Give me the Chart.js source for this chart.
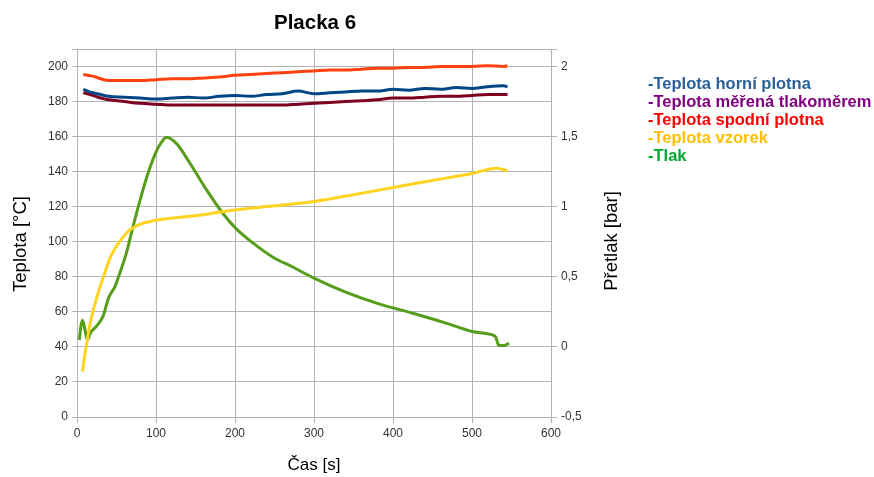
<!DOCTYPE html>
<html>
<head>
<meta charset="utf-8">
<title>Placka 6</title>
<script src="https://cdn.jsdelivr.net/npm/chart.js@4/dist/chart.umd.min.js"></script>
<style>
  html, body { margin: 0; padding: 0; background: #fff; }
  #wrap { position: relative; width: 874px; height: 477px; }
  #legend {
    position: absolute; left: 648px; top: 74px;
    font: bold 16.5px "Liberation Sans", Arial, sans-serif; line-height: 18px;
  }
  #legend div { white-space: nowrap; }
</style>
</head>
<body>
<div id="wrap">
  <canvas id="chart" width="874" height="477"></canvas>
  <div id="legend"></div>
</div>
<script>
// ── Data ──
// teploty desek (°C), společná časová osa
const plateTime = [8, 20, 30, 40, 60, 80, 100, 120, 140, 160, 180, 200, 220, 240, 260,
                   280, 300, 320, 340, 360, 380, 400, 420, 440, 460, 480, 500, 520, 540, 545];
const horniPlotna = [187, 185, 184, 183, 182.5, 182, 181.5, 182, 182.5, 182, 183, 183.5, 183, 184, 184.5,
                     186, 184.5, 185, 185.5, 186, 186, 187, 186.5, 187.5, 187, 188, 187.5, 188.5, 189, 188.5];
const merenaTlakomerem = [185, 183.5, 182, 181, 180, 179, 178.5, 178, 178, 178, 178, 178, 178, 178, 178,
                          178.5, 179, 179.5, 180, 180.5, 181, 182, 182, 182.5, 183, 183, 183.5, 184, 184, 184];
const spodniPlotna = [195.5, 194.5, 193, 192, 192, 192, 192.5, 193, 193, 193.5, 194, 195, 195.5, 196, 196.5,
                      197, 197.5, 198, 198, 198.5, 199, 199, 199.5, 199.5, 200, 200, 200, 200.5, 200, 200.5];

// teplota vzorku (°C)
const vzorekTime = [7, 10, 13, 16, 20, 25, 29, 35, 42, 50, 58, 65, 71, 80, 90, 100, 125, 155, 175,
                    197, 250, 300, 325, 350, 400, 450, 500, 531, 545];
const vzorek = [26, 36, 44, 52, 60, 68, 74, 82, 91, 97.5, 102.5, 106, 108, 110, 111.3, 112.3, 113.7, 115.1, 116.5,
                118, 120.5, 123, 124.8, 126.8, 131, 135, 139, 142, 140.5];

// přetlak (bar), pravá osa
const tlakTime = [3, 5, 7, 10, 13, 17, 25, 33, 40, 48, 55, 62, 71, 80, 90, 100, 107, 113, 126, 143,
                  164, 185, 202, 223, 248, 273, 300, 340, 383, 425, 467, 500, 526, 530, 534, 540, 547];
const tlak = [0.05, 0.15, 0.19, 0.125, 0.05, 0.1, 0.15, 0.22, 0.35, 0.43, 0.54, 0.66, 0.86, 1.05, 1.24, 1.39, 1.46, 1.496, 1.45, 1.31,
              1.12, 0.95, 0.84, 0.74, 0.64, 0.57, 0.49, 0.39, 0.305, 0.24, 0.17, 0.11, 0.085, 0.07, 0.01, 0.01, 0.025];

const xTicks = [0, 100, 200, 300, 400, 500, 600];

const pts = (xs, ys) => xs.map((x, i) => ({ x, y: ys[i] }));

const series = [
  { label: 'Teplota horní plotna',       data: pts(plateTime, horniPlotna),      color: '#004586', text: '#2a6099', axis: 'y' },
  { label: 'Teplota měřená tlakoměrem',  data: pts(plateTime, merenaTlakomerem), color: '#7e0021', text: '#800080', axis: 'y' },
  { label: 'Teplota spodní plotna',      data: pts(plateTime, spodniPlotna),     color: '#ff420e', text: '#ff0000', axis: 'y' },
  { label: 'Teplota vzorek',             data: pts(vzorekTime, vzorek),          color: '#ffd320', text: '#ffbf00', axis: 'y' },
  { label: 'Tlak',                       data: pts(tlakTime, tlak),              color: '#579d1c', text: '#00a933', axis: 'y1' },
];

// legenda vpravo – jen barevný text
const legendEl = document.getElementById('legend');
series.forEach(s => {
  const d = document.createElement('div');
  d.textContent = '-' + s.label;
  d.style.color = s.text;
  legendEl.appendChild(d);
});

const GRID = '#b3b3b3';
const TICK_FONT = { family: 'Liberation Sans', size: 12 };
const TITLE_FONT = { family: 'Liberation Sans', size: 17 };

// svislé popisky os, oba otočené zdola nahoru
const axisTitles = {
  id: 'axisTitles',
  afterDraw(chart) {
    const { ctx } = chart;
    const draw = (text, x, y) => {
      ctx.save();
      ctx.translate(x, y);
      ctx.rotate(-Math.PI / 2);
      ctx.font = '18.5px "Liberation Sans"';
      ctx.fillStyle = '#000';
      ctx.textAlign = 'center';
      ctx.textBaseline = 'middle';
      ctx.fillText(text, 0, 0);
      ctx.restore();
    };
    draw('Teplota [°C]', 21, 244);
    draw('Přetlak [bar]', 612, 241);
  }
};

new Chart(document.getElementById('chart'), {
  type: 'line',
  data: {
    datasets: series.map(s => ({
      label: s.label,
      data: s.data,
      borderColor: s.color,
      backgroundColor: s.color,
      yAxisID: s.axis,
    })),
  },
  options: {
    responsive: false,
    animation: false,
    layout: { padding: { left: 0, right: 244, top: 0, bottom: 0 } },
    elements: {
      point: { radius: 0 },
      line: { borderWidth: 3, cubicInterpolationMode: 'monotone' },
    },
    plugins: {
      legend: { display: false },
      tooltip: { enabled: false },
      title: {
        display: true, text: 'Placka 6', color: '#000',
        font: { family: 'Liberation Sans', size: 20.5, weight: 'bold' },
        padding: { top: 11, bottom: 13.4 },
      },
    },
    scales: {
      x: {
        type: 'linear', min: 0, max: 600,
        afterBuildTicks: (s) => { s.ticks = xTicks.map(v => ({ value: v })); },
        afterFit: (s) => { s.height = 60; },
        grid: { color: GRID, tickLength: 6 },
        border: { color: GRID },
        ticks: { font: TICK_FONT, color: '#333', padding: 3, maxRotation: 0 },
        title: { display: true, text: 'Čas [s]', font: TITLE_FONT, color: '#000', padding: { top: 1, bottom: 1 } },
      },
      y: {
        position: 'left', min: 0, max: 210,
        afterFit: (s) => { s.width = 77; },
        grid: { color: GRID, tickLength: 5 },
        border: { color: GRID },
        ticks: {
          stepSize: 20, font: TICK_FONT, color: '#333', padding: 4,
          callback: (v) => (v % 20 === 0 ? v : ''),
        },
      },
      y1: {
        position: 'right', min: -0.5, max: 2.125,
        afterFit: (s) => { s.width = 79; },
        grid: { drawOnChartArea: false, color: GRID, tickLength: 6 },
        border: { color: GRID },
        ticks: {
          stepSize: 0.5, font: TICK_FONT, color: '#333', padding: 4,
          callback: (v) => (Math.abs(v * 2 - Math.round(v * 2)) < 1e-9 ? String(v).replace('.', ',') : ''),
        },
      },
    },
  },
  plugins: [axisTitles],
});
</script>
</body>
</html>
